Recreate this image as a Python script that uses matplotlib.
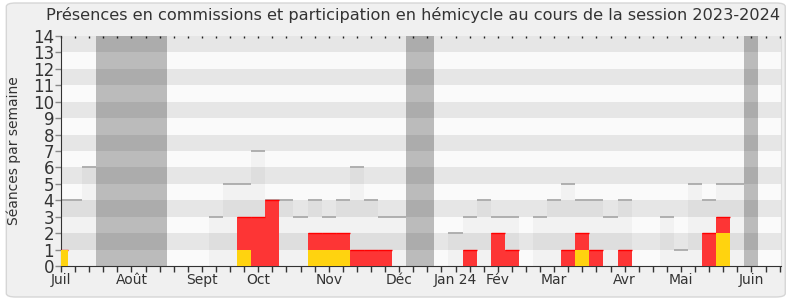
import numpy as np
import matplotlib.pyplot as plt
from matplotlib.patches import FancyBboxPatch

# semaines de la session (index 0 = debut juillet)
semaines = np.arange(52)
seances = [4, 4, 6, 0, 0, 0, 0, 0, 0, 0, 0, 3, 5, 5, 7, 4, 4, 3, 4, 3,
           4, 6, 4, 3, 3, 0, 0, 0, 2, 3, 4, 3, 3, 0, 3, 4, 5, 4, 4, 3,
           4, 0, 0, 3, 1, 5, 4, 5, 5, 0, 0, 0]
commission = [1, 0, 0, 0, 0, 0, 0, 0, 0, 0, 0, 0, 0, 3, 3, 4, 0, 0, 2, 2,
              2, 1, 1, 1, 0, 0, 0, 0, 0, 1, 0, 2, 1, 0, 0, 0, 1, 2, 1, 0,
              1, 0, 0, 0, 0, 0, 2, 3, 0, 0, 0, 0]
hemicycle = [1, 0, 0, 0, 0, 0, 0, 0, 0, 0, 0, 0, 0, 1, 0, 0, 0, 0, 1, 1,
             1, 0, 0, 0, 0, 0, 0, 0, 0, 0, 0, 0, 0, 0, 0, 0, 0, 1, 0, 0,
             0, 0, 0, 0, 0, 0, 0, 2, 0, 0, 0, 0]
vacances = [(2.5, 7.5), (24.5, 26.5), (48.5, 49.5)]
mois_pos = [0, 5, 10, 14, 19, 24, 28, 31, 35, 40, 44, 49]
mois = ['Juil', 'Août', 'Sept', 'Oct', 'Nov', 'Déc', 'Jan 24', 'Fév',
        'Mar', 'Avr', 'Mai', 'Juin']

plt.rcParams['font.family'] = 'DejaVu Sans'

fig = plt.figure(figsize=(7.9, 3.0), dpi=100, facecolor='white')
fig.patches.append(FancyBboxPatch((0.008, 0.01), 0.986, 0.98,
                                  boxstyle='round,pad=0,rounding_size=0.012',
                                  transform=fig.transFigure, facecolor='#f0f0f0',
                                  edgecolor='#d6d6d6', lw=1, zorder=-10))
ax = fig.add_axes([61/790, 34/300, 720/790, 230/300])
ax.set_facecolor('#fafafa')

# bandes horizontales
for i in range(14):
    ax.axhspan(i, i+1, color='#e6e6e6' if i % 2 else '#fafafa', lw=0, zorder=0)

for a, b in vacances:
    ax.axvspan(a, b, color='black', alpha=0.25, lw=0, zorder=1)

ax.bar(semaines, seances, width=1, color='black', alpha=0.03, lw=0, zorder=2)
for k, h in zip(semaines, seances):
    if h > 0:
        ax.hlines(h, k-0.5, k+0.5, color='#aaaaaa', lw=1.3, zorder=2.5)

ax.bar(semaines, commission, width=1, color='#fd3535', lw=0, zorder=3)
for k, h in zip(semaines, commission):
    if h > 0:
        ax.hlines(h, k-0.5, k+0.5, color='#ff0000', lw=1, zorder=3.5)
ax.bar(semaines, hemicycle, width=1, color='#ffd30f', lw=0, zorder=4)

ax.set_xlim(0, 51.1)
ax.set_ylim(0, 14)
ax.set_yticks(range(15))
ax.set_xticks(semaines)
labels = [''] * 52
for p, m in zip(mois_pos, mois):
    labels[p] = m
ax.set_xticklabels(labels)
ax.tick_params(axis='x', length=4, width=1, color='#333333', labelsize=10,
               labelcolor='#333333', pad=1)
ax.tick_params(axis='y', length=4, width=1, color='#888888', labelsize=12,
               labelcolor='#333333', pad=1)
ax.set_ylabel('Séances par semaine', fontsize=10, color='#333333')
ax.yaxis.set_label_coords(-0.055, 0.5)

sec = ax.secondary_xaxis('top')
sec.set_xticks(semaines)
sec.tick_params(length=1.5, direction='in', width=1, color='#222222', labeltop=False)
sec.spines['top'].set_visible(False)

ax.spines['top'].set_visible(False)
ax.spines['right'].set_color('#dddddd')
ax.spines['left'].set_color('#333333')
ax.spines['bottom'].set_color('#333333')

fig.text(413/790, 0.95, 'Présences en commissions et participation en hémicycle au cours de la session 2023-2024',
         ha='center', va='center', fontsize=11.6, color='#333333')

fig.savefig('out.png', dpi=100, facecolor=fig.get_facecolor())
